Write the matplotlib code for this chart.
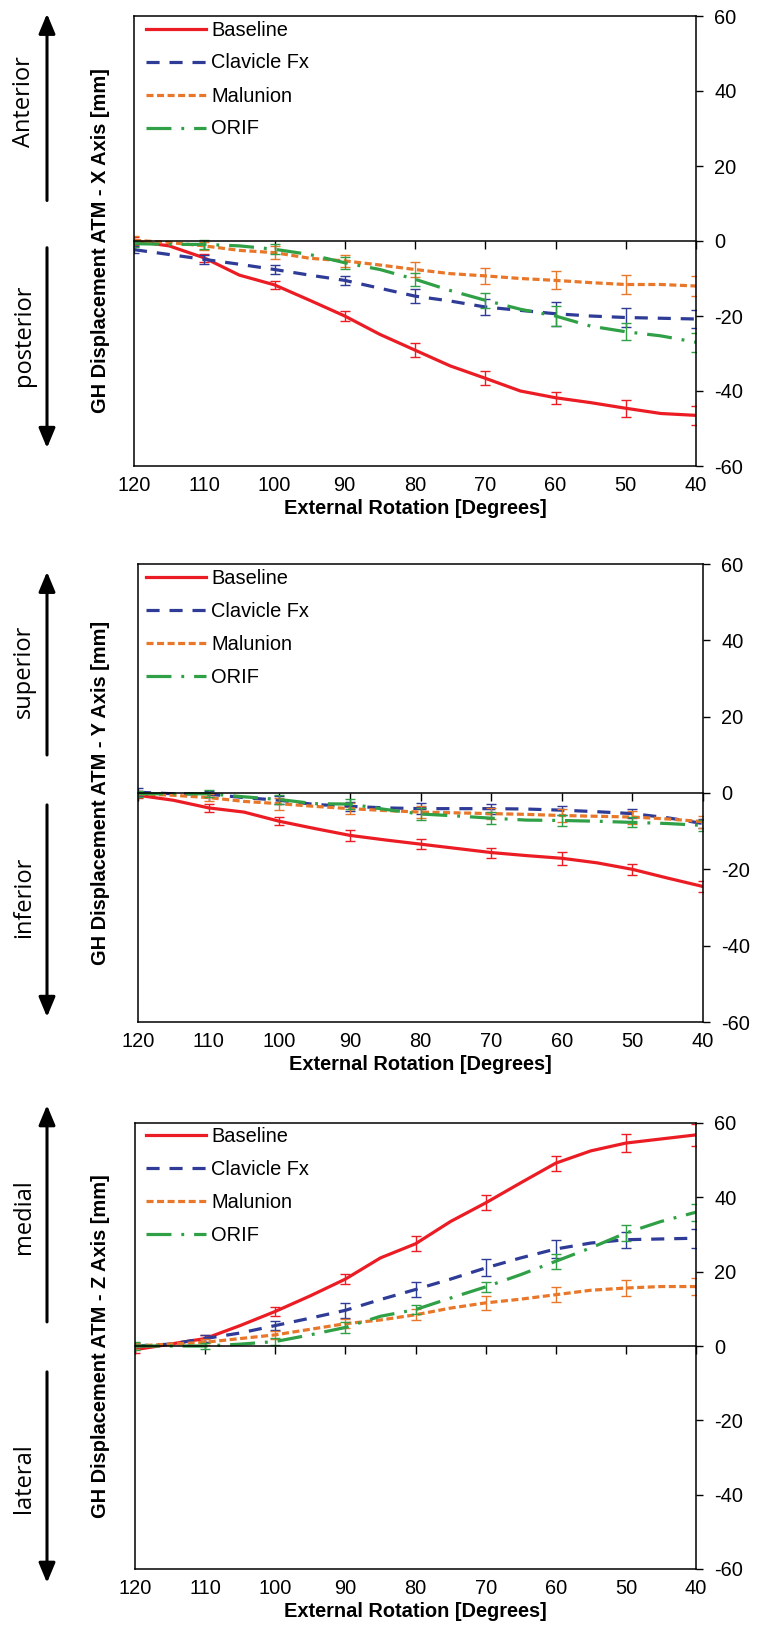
"""GH displacement vs external rotation, three stacked panels."""
import numpy as np
import matplotlib.pyplot as plt
import matplotlib.transforms as mtransforms
from matplotlib.ticker import MultipleLocator

plt.rcParams['font.family'] = ['Liberation Sans', 'DejaVu Sans']
plt.rcParams['axes.unicode_minus'] = False

# -------------------------------------------------------
# Data.
# -------------------------------------------------------
angle = [120, 115, 110, 105, 100, 95, 90, 85, 80, 75, 70, 65, 60, 55, 50, 45, 40]
err_angle = [120, 110, 100, 90, 80, 70, 60, 50, 40]

series_names = ["Baseline", "Clavicle Fx", "Malunion", "ORIF"]

# X axis (anterior / posterior)
x_baseline = [0.0, -1.3, -4.5, -9.1, -11.7, -15.8, -20.0, -24.9, -29.1, -33.3,
              -36.6, -40.0, -41.8, -43.1, -44.6, -46.0, -46.5]
x_baseline_err = [1.0, 1.0, 1.1, 1.4, 1.8, 1.9, 1.6, 2.3, 2.5]
x_clavicle = [-2.3, -3.6, -4.9, -6.2, -7.6, -9.1, -10.5, -12.6, -14.7, -16.0,
              -17.6, -18.5, -19.4, -20.0, -20.4, -20.6, -20.8]
x_clavicle_err = [1.0, 1.3, 1.3, 1.3, 1.8, 2.2, 3.2, 2.5, 2.5]
x_malunion = [0.2, -0.4, -1.3, -2.5, -3.1, -4.6, -5.3, -6.4, -7.6, -8.7,
              -9.3, -10.0, -10.5, -11.1, -11.6, -11.6, -12.0]
x_malunion_err = [1.1, 1.1, 1.8, 1.6, 2.0, 2.2, 2.4, 2.6, 2.7]
x_orif = [-0.7, -0.9, -0.9, -1.3, -2.2, -3.6, -5.8, -7.6, -10.2, -13.2,
          -15.8, -18.2, -20.0, -22.7, -24.2, -25.3, -27.0]
x_orif_err = [0.8, 1.1, 1.3, 1.6, 1.8, 2.0, 2.7, 2.3, 2.5]

# Y axis (superior / inferior)
y_baseline = [-0.6, -1.9, -3.9, -5.0, -7.4, -9.3, -11.1, -12.3, -13.4, -14.5,
              -15.6, -16.4, -17.1, -18.3, -20.0, -22.3, -24.5]
y_baseline_err = [0.8, 1.0, 1.0, 1.4, 1.4, 1.3, 1.7, 1.4, 1.5]
y_clavicle = [0.2, -0.2, -0.3, -1.2, -1.9, -3.0, -3.5, -3.9, -4.1, -4.1,
              -4.1, -4.2, -4.5, -4.9, -5.4, -6.5, -8.0]
y_clavicle_err = [1.0, 0.8, 1.0, 1.2, 1.4, 1.3, 1.2, 1.1, 1.3]
y_malunion = [-0.2, -0.6, -1.2, -2.2, -2.8, -3.5, -4.1, -4.6, -5.0, -5.2,
              -5.4, -5.6, -5.9, -6.1, -6.3, -6.8, -7.5]
y_malunion_err = [0.8, 1.0, 1.6, 1.5, 1.6, 1.5, 1.7, 1.7, 1.6]
y_orif = [-0.2, -0.2, -0.2, -1.0, -1.7, -2.8, -2.9, -4.3, -5.5, -6.0,
          -6.6, -7.1, -7.2, -7.4, -7.7, -8.0, -8.5]
y_orif_err = [0.8, 0.9, 1.1, 1.3, 1.5, 1.5, 1.4, 1.3, 1.4]

# Z axis (medial / lateral)
z_baseline = [-1.0, 0.5, 2.0, 5.5, 9.3, 13.5, 18.0, 23.7, 27.5, 33.5,
              38.5, 43.9, 49.2, 52.5, 54.6, 55.7, 56.8]
z_baseline_err = [1.0, 1.0, 1.1, 1.4, 2.0, 2.0, 2.0, 2.5, 3.0]
z_clavicle = [0.0, 0.5, 2.0, 3.5, 5.5, 7.5, 9.6, 12.5, 15.2, 18.0,
              21.0, 23.7, 26.1, 27.7, 28.6, 28.8, 29.0]
z_clavicle_err = [0.8, 1.0, 1.2, 2.0, 2.0, 2.3, 2.4, 2.2, 2.5]
z_malunion = [0.0, 0.5, 1.0, 2.0, 3.0, 4.5, 6.0, 7.0, 8.4, 10.2,
              11.6, 12.6, 13.8, 15.0, 15.6, 16.0, 16.0]
z_malunion_err = [0.8, 0.8, 1.0, 1.2, 1.5, 1.8, 2.0, 2.2, 2.2]
z_orif = [0.0, 0.0, 0.0, 0.5, 1.2, 3.0, 5.0, 8.0, 9.8, 12.9,
          15.9, 19.2, 22.8, 26.4, 30.4, 33.5, 36.0]
z_orif_err = [1.0, 0.8, 1.0, 1.5, 1.3, 1.3, 2.0, 2.2, 2.3]

# -------------------------------------------------------
# Styles.
# -------------------------------------------------------
colors = ["#EC1C24", "#2E3B97", "#E8772A", "#2FA046"]
styles = ["-", (0, (4.1, 3.1)), (0, (2.2, 1.1)), (0, (7.8, 3.1, 0.9, 3.1))]
FS = 14.4

fig = plt.figure(figsize=(7.57, 16.38), dpi=100)

# panel rects (pixels: left, top, right, bottom)
panel_px = [
    (134, 16, 696, 466),
    (138, 564, 703, 1022),
    (135, 1123, 696, 1569),
]
W, H = 757, 1638

panels = [
    dict(vals=[x_baseline, x_clavicle, x_malunion, x_orif],
         errs=[x_baseline_err, x_clavicle_err, x_malunion_err, x_orif_err],
         ylabel="GH Displacement ATM - X Axis [mm]",
         up="Anterior", down="posterior",
         up_arrow=(0.59, 1.005), down_arrow=(0.485, 0.04),
         up_text=0.81, down_text=0.29),
    dict(vals=[y_baseline, y_clavicle, y_malunion, y_orif],
         errs=[y_baseline_err, y_clavicle_err, y_malunion_err, y_orif_err],
         ylabel="GH Displacement ATM - Y Axis [mm]",
         up="superior", down="inferior",
         up_arrow=(0.583, 0.983), down_arrow=(0.474, 0.011),
         up_text=0.766, down_text=0.273),
    dict(vals=[z_baseline, z_clavicle, z_malunion, z_orif],
         errs=[z_baseline_err, z_clavicle_err, z_malunion_err, z_orif_err],
         ylabel="GH Displacement ATM - Z Axis [mm]",
         up="medial", down="lateral",
         up_arrow=(0.554, 1.04), down_arrow=(0.442, -0.031),
         up_text=0.79, down_text=0.204),
]

for (l, t, r, b), p in zip(panel_px, panels):
    ax = fig.add_axes([l / W, 1 - b / H, (r - l) / W, (b - t) / H])

    for name, v, e, c, ls in zip(series_names, p["vals"], p["errs"], colors, styles):
        ax.plot(angle, v, color=c, lw=2.3, linestyle=ls, label=name)
        ax.errorbar(err_angle, v[::2], yerr=e, fmt="none", ecolor=c,
                    elinewidth=1.0, capsize=3.3, capthick=1.0)

    ax.set_xlim(120, 40)
    ax.set_ylim(-60, 60)

    # y axis on the right
    ax.yaxis.tick_right()
    ax.yaxis.set_major_locator(MultipleLocator(20))
    ax.tick_params(axis="y", direction="out", length=5, width=1.0, pad=8,
                   labelsize=FS, left=False, right=True)
    ax.yaxis.set_label_position("left")
    ax.set_ylabel(p["ylabel"], fontsize=FS, fontweight="bold")
    ax.yaxis.set_label_coords((110 - l) / (r - l), 0.5)

    # x axis line through zero, labels along the bottom edge
    ax.spines["bottom"].set_position(("data", 0))
    ax.xaxis.set_major_locator(MultipleLocator(10))
    ax.tick_params(axis="x", direction="out", length=5.5, width=1.0,
                   labelbottom=False)
    for s in ax.spines.values():
        s.set_linewidth(1.1)

    sec = ax.secondary_xaxis(0)
    sec.xaxis.set_major_locator(MultipleLocator(10))
    sec.tick_params(length=0, labelsize=FS, pad=7)
    sec.spines["bottom"].set_linewidth(1.1)
    sec.set_xlabel("External Rotation [Degrees]", fontsize=FS,
                   fontweight="bold", labelpad=3)

    ax.legend(loc="upper left", bbox_to_anchor=((152 - l) / (r - l) - 0.01, 0.99),
              frameon=False, fontsize=FS, handlelength=3.0, handletextpad=0.25,
              labelspacing=0.7, borderpad=0, borderaxespad=0)

    # direction arrows and labels on the far left
    trans = mtransforms.blended_transform_factory(fig.transFigure, ax.transAxes)
    ax_x = 47 / W
    aprops = dict(arrowstyle="-|>,head_length=0.6,head_width=0.25", lw=2.2,
                  color="black", mutation_scale=20, shrinkA=0, shrinkB=0)
    ax.annotate("", xy=(ax_x, p["up_arrow"][1]), xytext=(ax_x, p["up_arrow"][0]),
                xycoords=trans, textcoords=trans, arrowprops=aprops,
                annotation_clip=False)
    ax.annotate("", xy=(ax_x, p["down_arrow"][1]), xytext=(ax_x, p["down_arrow"][0]),
                xycoords=trans, textcoords=trans, arrowprops=aprops,
                annotation_clip=False)
    ax.text(24 / W, p["up_text"], p["up"], transform=trans, rotation=90,
            ha="center", va="center", fontsize=17, family="Open Sans")
    ax.text(24 / W, p["down_text"], p["down"], transform=trans, rotation=90,
            ha="center", va="center", fontsize=17, family="Open Sans")

fig.savefig("out.png", dpi=100)
